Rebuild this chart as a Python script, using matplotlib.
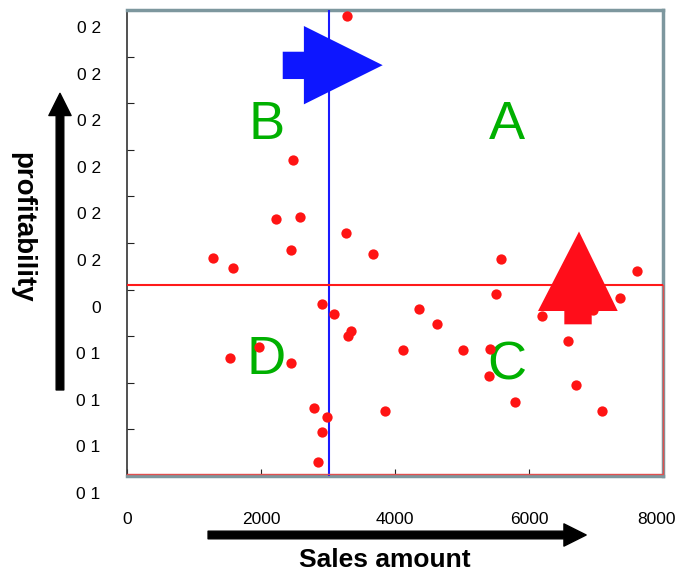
import numpy as np
import matplotlib
matplotlib.use("Agg")
import matplotlib.pyplot as plt
from matplotlib.patches import Polygon, FancyArrowPatch
from matplotlib.transforms import ScaledTranslation

plt.rcParams['font.family'] = ['Liberation Sans', 'DejaVu Sans']

# sales amount / profitability (profitability in tick units, 0 = "0" tick)
sales = [2473, 2228, 2587, 2452, 3269, 3672, 1279, 1587, 2915, 3094,
         3343, 3294, 1966, 1542, 2452, 4112, 2787, 2985, 3846, 2915,
         2851, 5578, 5507, 4358, 4627, 6190, 7354, 7616, 5019, 5422,
         5407, 6578, 6706, 5796, 7094, 6955, 3288]
profit = [2.78, 1.51, 1.56, 0.84, 1.22, 0.77, 0.68, 0.46, -0.31, -0.53,
          -0.88, -0.99, -1.23, -1.46, -1.58, -1.30, -2.54, -2.73, -2.61, -3.06,
          -3.69, 0.65, -0.09, -0.41, -0.73, -0.56, -0.17, 0.40, -1.29, -1.27,
          -1.85, -1.11, -2.05, -2.42, -2.61, -0.44, 5.88]

sales_avg = 3020
profit_avg = 0.10

x_ticks = [0, 2000, 4000, 6000, 8000]
y_ticks = [6, 5, 4, 3, 2, 1, 0, -1, -2, -3, -4]
y_labels = ["0 2", "0 2", "0 2", "0 2", "0 2", "0 2", "0", "0 1", "0 1", "0 1", "0 1"]

quadrants = ["A", "B", "C", "D"]
quad_x = [5672, 2090, 5672, 2075]
quad_y = [3.53, 3.53, -1.62, -1.51]

fig = plt.figure(figsize=(6.8, 5.76), dpi=100)
ax = fig.add_axes([0.1868, 0.1736, 0.7882, 0.809])

ax.set_xlim(0, 8000)
ax.set_ylim(-4, 6)

for k, s in enumerate(quadrants):
    ax.text(quad_x[k], quad_y[k], s, color='#00b000', fontsize=39,
            ha='center', va='center', zorder=2)

ax.axvline(sales_avg, color='#1a1aff', lw=1.5, zorder=3)
ax.axhline(profit_avg, color='#ff1a1a', lw=1.5, zorder=3)

ax.scatter(sales, profit, s=55, color='#ff1414', zorder=4, linewidths=0)

# big blue arrow (pointing right)
blue = Polygon([(0.2905, 0.9105), (0.330, 0.9105), (0.330, 0.9657), (0.477, 0.8816),
                (0.330, 0.7976), (0.330, 0.8519), (0.2905, 0.8519)],
               closed=True, transform=ax.transAxes, color='#0d16ff', lw=0, zorder=5)
ax.add_patch(blue)

# big red arrow (pointing up)
red = Polygon([(0.8159, 0.3255), (0.8159, 0.3541), (0.7668, 0.3541), (0.8433, 0.5247),
               (0.9155, 0.3541), (0.8670, 0.3541), (0.8670, 0.3255)],
              closed=True, transform=ax.transAxes, color='#ff0d1a', lw=0, zorder=5)
ax.add_patch(red)

# thin red inner frame line at bottom / right
ax.plot([0, 1, 1], [0.004, 0.004, 0.41], color='#e05050', lw=1,
        transform=ax.transAxes, zorder=3, clip_on=False)

for sp in ax.spines.values():
    sp.set_color('#7d979e')
    sp.set_linewidth(2.5)
ax.spines['left'].set_color('#333333')
ax.spines['left'].set_linewidth(1.2)

ax.set_xticks(x_ticks)
ax.set_yticks(y_ticks)
ax.set_yticklabels(y_labels)
ax.tick_params(axis='both', direction='in', length=5, color='#222222', labelsize=12.5)
ax.tick_params(axis='x', pad=26)
ax.tick_params(axis='y', pad=19)
off = ScaledTranslation(0, -0.17, fig.dpi_scale_trans)
for lbl in ax.get_yticklabels():
    lbl.set_transform(lbl.get_transform() + off)
# keep the last x label inside the picture
xl = ax.get_xticklabels()
xl[-1].set_transform(xl[-1].get_transform() + ScaledTranslation(-0.06, 0, fig.dpi_scale_trans))

# axis arrows and labels
fig.add_artist(FancyArrowPatch((0.306, 0.0712), (0.862, 0.0712), transform=fig.transFigure,
                               arrowstyle='simple,head_width=1.6,head_length=1.6,tail_width=0.55',
                               mutation_scale=10, color='black', shrinkA=0, shrinkB=0))
fig.add_artist(FancyArrowPatch((0.0882, 0.323), (0.0882, 0.838), transform=fig.transFigure,
                               arrowstyle='simple,head_width=1.6,head_length=1.6,tail_width=0.55',
                               mutation_scale=10, color='black', shrinkA=0, shrinkB=0))
fig.text(0.566, 0.028, "Sales amount", fontsize=19, fontweight='bold', ha='center', va='center')
fig.text(0.032, 0.605, "profitability", fontsize=20, fontweight='bold', rotation=-90,
         ha='center', va='center')

fig.savefig("out.png", dpi=100)
